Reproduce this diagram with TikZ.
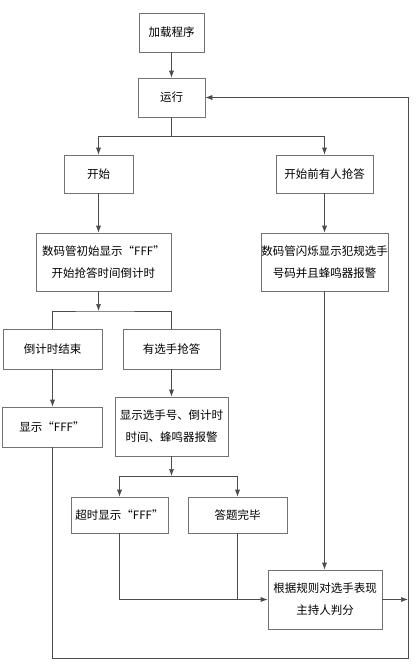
\documentclass[tikz,border=0pt]{standalone}
\usepackage{fontspec}
\setmainfont{Noto Sans CJK SC}
\usetikzlibrary{calc, positioning}
\usetikzlibrary{arrows.meta}

\begin{document}
\begin{tikzpicture}[x=1pt, y=-1pt]
\tikzset{box/.style={draw=black!55, line width=0.6pt, align=center, inner sep=0pt, font=\fontsize{11.5}{22}\selectfont}}
\tikzset{line/.style={draw=black!70, line width=0.6pt}}
\tikzset{arr/.style={line, -{Latex[length=7pt, width=5pt]}}}

\useasboundingbox (0,0) rectangle (416,665);

\node[box, minimum width=65, minimum height=39] (A) at (171.5,32.5) {加载程序};
\node[box, minimum width=67, minimum height=39] (B) at (171.5,97.5) {运行};
\node[box, minimum width=69, minimum height=38] (C) at (98.5,174) {开始};
\node[box, minimum width=97, minimum height=38] (D) at (324.5,174) {开始前有人抢答};
\node[box, minimum width=135, minimum height=58] (E) at (103.5,262) {数码管初始显示“FFF”\\开始抢答时间倒计时};
\node[box, minimum width=127, minimum height=58] (F) at (324.5,262) {数码管闪烁显示犯规选手\\号码并且蜂鸣器报警};
\node[box, minimum width=99, minimum height=40] (G) at (52.5,349) {倒计时结束};
\node[box, minimum width=97, minimum height=40] (H) at (171.5,349) {有选手抢答};
\node[box, minimum width=100, minimum height=40] (I) at (52,427) {显示“FFF”};
\node[box, minimum width=113, minimum height=59] (J) at (171.5,426.5) {显示选手号、倒计时\\时间、蜂鸣器报警};
\node[box, minimum width=97, minimum height=36] (K) at (119.5,515) {超时显示“FFF”};
\node[box, minimum width=99, minimum height=36] (L) at (237.5,515) {答题完毕};
\node[box, minimum width=114, minimum height=59] (M) at (325,599.5) {根据规则对选手表现\\主持人判分};

\coordinate (P) at (171.5,136);
\coordinate (Q) at (98.5,311);
\coordinate (R) at (171.5,476);
\coordinate (T) at (408,599.5);
\coordinate (V) at (408,658);

\draw[arr] (A) -- (B);
\draw[line] (B) -- (P);
\draw[arr] (P) -| (C);
\draw[arr] (P) -| (D);
\draw[arr] (C) -- (C |- E.north);
\draw[arr] (D) -- (D |- F.north);
\draw[arr] (C |- E.south) -- (Q);
\draw[line] (G) |- (Q) -| (H);
\draw[arr] (G) -- (G |- I.north);
\draw[arr] (H) -- (J);
\draw[arr] (J) -- (R);
\draw[arr] (R) -| (K);
\draw[arr] (R) -| (L);
\draw[arr] (K) |- (M);
\draw[line] (L) -- (L |- M);
\draw[arr] (F) -- (F |- M.north);
\draw[arr] (M) -- (T);
\draw[arr] (I) |- (V) -- (B -| V) -- (B);
\end{tikzpicture}
\end{document}
